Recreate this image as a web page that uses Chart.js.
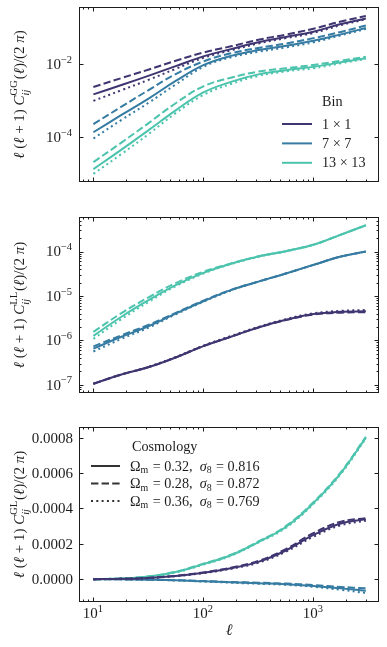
<!DOCTYPE html>
<html>
<head>
<meta charset="utf-8">
<script src="https://cdn.jsdelivr.net/npm/chart.js@4.4.1/dist/chart.umd.min.js"></script>
<style>
    html, body { margin: 0; padding: 0; background: #fff; }
    #wrap { position: relative; width: 387px; height: 647px; overflow: hidden; }
    #wrap canvas { position: absolute; left: 0; }
</style>
</head>
<body>
<div id="wrap">
    <canvas id="c-gg" width="387" height="205" style="top:0"></canvas>
    <canvas id="c-ll" width="387" height="205" style="top:205px"></canvas>
    <canvas id="c-gl" width="387" height="237" style="top:410px"></canvas>
</div>
<script>
// ═══ data ═══
const ELL = [10, 18, 32, 56, 100, 178, 316, 562, 1000, 1778, 3000];

const BIN_LABELS = ['1 × 1', '7 × 7', '13 × 13'];
const BIN_COLORS = ['#3e3571', '#357ba2', '#4cc3ad'];

// cosmologies: fiducial (solid), low Ωm (dashed), high Ωm (dotted)
const COSMO_OM = ['0.32', '0.28', '0.36'];
const COSMO_S8 = ['0.816', '0.872', '0.769'];
const COSMO_DASH = [[], [7.4, 3.2], [2, 3.3]];

// GG
const GG_1_FID = [1.5e-3, 2.7e-3, 4.9e-3, 8.9e-3, 0.0165, 0.026, 0.040, 0.056, 0.078, 0.126, 0.18];
const GG_1_LO  = [2.4e-3, 4.2e-3, 7.2e-3, 0.0125, 0.021, 0.031, 0.047, 0.065, 0.094, 0.148, 0.21];
const GG_1_HI  = [1.0e-3, 1.95e-3, 3.8e-3, 7.5e-3, 0.0150, 0.024, 0.037, 0.052, 0.072, 0.118, 0.17];
const GG_7_FID = [1.38e-4, 4.1e-4, 1.17e-3, 3.5e-3, 0.0095, 0.017, 0.0245, 0.032, 0.044, 0.066, 0.098];
const GG_7_LO  = [2.3e-4, 6.9e-4, 2.0e-3, 5.4e-3, 0.0120, 0.020, 0.028, 0.037, 0.052, 0.077, 0.115];
const GG_7_HI  = [9.3e-5, 3.0e-4, 9.0e-4, 2.8e-3, 0.0085, 0.0155, 0.022, 0.029, 0.040, 0.062, 0.093];
const GG_13_FID = [1.35e-5, 4.6e-5, 1.6e-4, 5.5e-4, 1.7e-3, 3.3e-3, 5.3e-3, 6.9e-3, 8.5e-3, 0.0113, 0.0146];
const GG_13_LO  = [2.1e-5, 7.2e-5, 2.5e-4, 8.6e-4, 2.5e-3, 4.3e-3, 6.3e-3, 7.8e-3, 9.6e-3, 0.0125, 0.016];
const GG_13_HI  = [1.0e-5, 3.5e-5, 1.25e-4, 4.6e-4, 1.45e-3, 2.9e-3, 4.8e-3, 6.4e-3, 7.8e-3, 0.0107, 0.014];

// LL
const LL_1_FID = [1.05e-7, 1.7e-7, 2.5e-7, 4.1e-7, 7.4e-7, 1.2e-6, 1.95e-6, 2.9e-6, 3.9e-6, 4.4e-6, 4.5e-6];
const LL_1_LO  = [1.05e-7, 1.7e-7, 2.5e-7, 4.1e-7, 7.4e-7, 1.2e-6, 1.95e-6, 2.85e-6, 3.8e-6, 4.2e-6, 4.3e-6];
const LL_1_HI  = [1.05e-7, 1.7e-7, 2.55e-7, 4.2e-7, 7.6e-7, 1.25e-6, 2.0e-6, 3.0e-6, 4.05e-6, 4.6e-6, 4.8e-6];
const LL_7_FID = [6.5e-7, 1.2e-6, 2.1e-6, 4.0e-6, 7.6e-6, 1.35e-5, 2.1e-5, 3.2e-5, 5.0e-5, 7.7e-5, 1.0e-4];
const LL_7_LO  = [7.3e-7, 1.3e-6, 2.25e-6, 4.15e-6, 7.8e-6, 1.37e-5, 2.1e-5, 3.2e-5, 5.0e-5, 7.7e-5, 1.0e-4];
const LL_7_HI  = [5.6e-7, 1.08e-6, 1.95e-6, 3.85e-6, 7.4e-6, 1.33e-5, 2.1e-5, 3.2e-5, 5.0e-5, 7.7e-5, 1.0e-4];
const LL_13_FID = [1.26e-6, 3.4e-6, 8.1e-6, 1.75e-5, 3.3e-5, 5.3e-5, 7.7e-5, 1.02e-4, 1.42e-4, 2.4e-4, 3.9e-4];
const LL_13_LO  = [1.55e-6, 4.1e-6, 9.4e-6, 1.95e-5, 3.5e-5, 5.4e-5, 7.8e-5, 1.03e-4, 1.43e-4, 2.4e-4, 3.9e-4];
const LL_13_HI  = [1.08e-6, 3.0e-6, 7.4e-6, 1.65e-5, 3.2e-5, 5.2e-5, 7.6e-5, 1.01e-4, 1.41e-4, 2.4e-4, 3.9e-4];

// GL
const GL_1_FID = [0, 2e-6, 7e-6, 1.8e-5, 3.6e-5, 6.2e-5, 9.8e-5, 1.62e-4, 2.5e-4, 3.15e-4, 3.38e-4];
const GL_1_LO  = [0, 2e-6, 7.5e-6, 1.9e-5, 3.8e-5, 6.5e-5, 1.03e-4, 1.7e-4, 2.6e-4, 3.25e-4, 3.45e-4];
const GL_1_HI  = [0, 2e-6, 6.5e-6, 1.7e-5, 3.4e-5, 5.9e-5, 9.3e-5, 1.55e-4, 2.4e-4, 3.05e-4, 3.3e-4];
const GL_7_FID = [0, -1e-6, -3e-6, -6e-6, -1.2e-5, -1.8e-5, -2.3e-5, -2.8e-5, -3.8e-5, -5.2e-5, -6.5e-5];
const GL_7_LO  = [0, -1e-6, -3e-6, -5.5e-6, -1.1e-5, -1.6e-5, -2.0e-5, -2.5e-5, -3.3e-5, -4.4e-5, -5.2e-5];
const GL_7_HI  = [0, -1e-6, -3.5e-6, -7e-6, -1.3e-5, -2.0e-5, -2.6e-5, -3.2e-5, -4.3e-5, -6.0e-5, -7.8e-5];
const GL_13_FID = [0, 4e-6, 1.5e-5, 4.0e-5, 8.5e-5, 1.35e-4, 2.1e-4, 2.95e-4, 4.3e-4, 6.0e-4, 8.0e-4];
const GL_13_LO  = [0, 4e-6, 1.6e-5, 4.2e-5, 8.8e-5, 1.38e-4, 2.13e-4, 3.0e-4, 4.35e-4, 6.05e-4, 8.05e-4];
const GL_13_HI  = [0, 4e-6, 1.4e-5, 3.8e-5, 8.2e-5, 1.32e-4, 2.07e-4, 2.9e-4, 4.25e-4, 5.95e-4, 7.95e-4];

// ticks
const X_MIN = 7.4, X_MAX = 3950;
const X_MAJOR = [10, 100, 1000];
const GG_Y_MAJOR = [1e-4, 1e-2];
const LL_Y_MAJOR = [1e-7, 1e-6, 1e-5, 1e-4];
const GL_Y_MAJOR = [0, 0.0002, 0.0004, 0.0006, 0.0008];
const GL_Y_LABELS = ['0.0000', '0.0002', '0.0004', '0.0006', '0.0008'];

// ═══ text helpers ═══
const SERIF = '"Liberation Serif", "DejaVu Serif", serif';
const INK = '#1c1c1c';

function fnt(size, it) { return (it ? 'italic ' : '') + size + 'px ' + SERIF; }

function runWidth(ctx, r, size) {
    const small = size * 0.7;
    if (r.t !== undefined) { ctx.font = fnt(size, r.it); return ctx.measureText(r.t).width; }
    let w = 0;
    if (r.sub) { ctx.font = fnt(small, r.subIt); w = Math.max(w, ctx.measureText(r.sub).width); }
    if (r.sup) { ctx.font = fnt(small, r.supIt); w = Math.max(w, ctx.measureText(r.sup).width); }
    return w + size * 0.06;
}

function drawRuns(ctx, runs, x, y, size, align) {
    const small = size * 0.7;
    const total = runs.reduce((s, r) => s + runWidth(ctx, r, size), 0);
    let cx = align === 'center' ? x - total / 2 : align === 'right' ? x - total : x;
    ctx.fillStyle = INK;
    ctx.textAlign = 'left';
    ctx.textBaseline = 'alphabetic';
    runs.forEach(r => {
        const w = runWidth(ctx, r, size);
        if (r.t !== undefined) {
            ctx.font = fnt(size, r.it);
            ctx.fillText(r.t, cx, y);
        } else {
            const both = r.sub && r.sup;
            if (r.sup) { ctx.font = fnt(small, r.supIt); ctx.fillText(r.sup, cx, y - size * (both ? 0.45 : 0.42)); }
            if (r.sub) { ctx.font = fnt(small, r.subIt); ctx.fillText(r.sub, cx, y + size * (both ? 0.3 : 0.2)); }
        }
        cx += w;
    });
    return total;
}

function yTitleRuns(kind) {
    return [
        { t: 'ℓ', it: true }, { t: ' (' }, { t: 'ℓ', it: true }, { t: ' + 1) ' },
        { t: 'C', it: true }, { sub: 'ij', subIt: true, sup: kind },
        { t: '(' }, { t: 'ℓ', it: true }, { t: ')/(2 ' }, { t: 'π', it: true }, { t: ')' }
    ];
}

function powLabel(v) {
    const e = Math.round(Math.log10(v));
    return [{ t: '10' }, { sup: String(e).replace('-', '−') }];
}

function cosmoRuns(i) {
    return [{ t: 'Ω' }, { sub: 'm' }, { t: ' = ' + COSMO_OM[i] + ',  ' }, { t: 'σ', it: true }, { sub: '8' }, { t: ' = ' + COSMO_S8[i] }];
}

// ═══ frame, inward ticks, labels, legends ═══
const framePlugin = {
    id: 'frame',
    afterDraw(chart) {
        const o = chart.options.plugins.frame;
        const ctx = chart.ctx;
        const a = chart.chartArea;
        const xs = chart.scales.x, ys = chart.scales.y;
        ctx.save();
        ctx.strokeStyle = INK;
        ctx.lineWidth = 1;
        ctx.setLineDash([]);
        ctx.strokeRect(Math.round(a.left) + 0.5, Math.round(a.top) + 0.5, Math.round(a.right - a.left) - 1, Math.round(a.bottom - a.top) - 1);

        const tick = (x1, y1, x2, y2) => { ctx.beginPath(); ctx.moveTo(x1, y1); ctx.lineTo(x2, y2); ctx.stroke(); };
        // x ticks
        for (let dec = 1; dec <= 1000; dec *= 10) {
            for (let m = 1; m <= 9; m++) {
                const v = m * dec;
                if (v < X_MIN || v > X_MAX) continue;
                const px = Math.round(xs.getPixelForValue(v)) + 0.5;
                const len = m === 1 ? 4.5 : 2.5;
                tick(px, a.bottom, px, a.bottom - len);
                tick(px, a.top, px, a.top + len);
            }
        }
        // y ticks
        o.yMajor.forEach(v => {
            const py = Math.round(ys.getPixelForValue(v)) + 0.5;
            tick(a.left, py, a.left + 4.5, py);
            tick(a.right, py, a.right - 4.5, py);
        });
        if (o.yMinorLog) {
            for (let dec = 1e-8; dec < 1e-3; dec *= 10) {
                for (let m = 2; m <= 9; m++) {
                    const v = m * dec;
                    if (v < ys.min || v > ys.max) continue;
                    const py = Math.round(ys.getPixelForValue(v)) + 0.5;
                    tick(a.left, py, a.left + 2.5, py);
                    tick(a.right, py, a.right - 2.5, py);
                }
            }
        }

        // y tick labels
        const TS = 15;
        o.yMajor.forEach((v, i) => {
            const py = ys.getPixelForValue(v);
            const runs = o.yLabels ? [{ t: o.yLabels[i] }] : powLabel(v);
            drawRuns(ctx, runs, a.left - 6, py + TS * 0.33, TS, 'right');
        });
        // x tick labels
        if (o.xLabels) {
            X_MAJOR.forEach(v => {
                drawRuns(ctx, powLabel(v), xs.getPixelForValue(v), a.bottom + 16, TS, 'center');
            });
            ctx.font = fnt(16, true);
            ctx.fillStyle = INK;
            ctx.textAlign = 'center';
            ctx.fillText('ℓ', (a.left + a.right) / 2, a.bottom + 33);
        }

        // y title
        ctx.save();
        ctx.translate(24, (a.top + a.bottom) / 2);
        ctx.rotate(-Math.PI / 2);
        drawRuns(ctx, yTitleRuns(o.kind), 0, 0, 15, 'center');
        ctx.restore();

        // legends
        const LS = 14.2;
        if (o.legend === 'bin') {
            drawRuns(ctx, [{ t: 'Bin' }], a.left + 243, a.top + 99, LS, 'left');
            BIN_LABELS.forEach((lab, i) => {
                const y = a.top + 117 + i * 19.4;
                ctx.strokeStyle = BIN_COLORS[i];
                ctx.lineWidth = 2;
                tick(a.left + 203, y, a.left + 233, y);
                drawRuns(ctx, [{ t: lab }], a.left + 243, y + 4.5, LS, 'left');
            });
        }
        if (o.legend === 'cosmo') {
            drawRuns(ctx, [{ t: 'Cosmology' }], a.left + 53, a.top + 24, LS, 'left');
            COSMO_OM.forEach((_, i) => {
                const y = a.top + 39 + i * 17.5;
                ctx.strokeStyle = '#333';
                ctx.lineWidth = 2;
                ctx.setLineDash(COSMO_DASH[i]);
                tick(a.left + 12, y, a.left + 41, y);
                ctx.setLineDash([]);
                drawRuns(ctx, cosmoRuns(i), a.left + 51, y + 4.5, LS, 'left');
            });
        }
        ctx.restore();
    }
};

function makeDatasets(series) {
    const out = [];
    series.forEach((bin, b) => {
        bin.forEach((vals, c) => {
            out.push({
                data: ELL.map((l, k) => ({ x: l, y: vals[k] })),
                borderColor: BIN_COLORS[b],
                borderWidth: 2,
                borderDash: COSMO_DASH[c],
                pointRadius: 0,
                fill: false,
                tension: 0.4
            });
        });
    });
    return out;
}

function makePanel(id, series, yType, yMin, yMax, pad, frame) {
    return new Chart(document.getElementById(id), {
        type: 'line',
        data: { datasets: makeDatasets(series) },
        options: {
            responsive: false,
            animation: false,
            layout: { padding: pad },
            plugins: { legend: { display: false }, tooltip: { enabled: false }, frame },
            scales: {
                x: { type: 'logarithmic', min: X_MIN, max: X_MAX, display: false, bounds: 'data' },
                y: { type: yType, min: yMin, max: yMax, display: false, bounds: 'data' }
            }
        },
        plugins: [framePlugin]
    });
}

makePanel('c-gg',
    [[GG_1_FID, GG_1_LO, GG_1_HI], [GG_7_FID, GG_7_LO, GG_7_HI], [GG_13_FID, GG_13_LO, GG_13_HI]],
    'logarithmic', 6.0e-6, 0.37,
    { left: 79, right: 8, top: 7, bottom: 23 },
    { kind: 'GG', yMajor: GG_Y_MAJOR, legend: 'bin' });

makePanel('c-ll',
    [[LL_1_FID, LL_1_LO, LL_1_HI], [LL_7_FID, LL_7_LO, LL_7_HI], [LL_13_FID, LL_13_LO, LL_13_HI]],
    'logarithmic', 6.5e-8, 6.0e-4,
    { left: 79, right: 8, top: 12, bottom: 17 },
    { kind: 'LL', yMajor: LL_Y_MAJOR, yMinorLog: true });

makePanel('c-gl',
    [[GL_1_FID, GL_1_LO, GL_1_HI], [GL_7_FID, GL_7_LO, GL_7_HI], [GL_13_FID, GL_13_LO, GL_13_HI]],
    'linear', -0.000129, 0.00086,
    { left: 79, right: 8, top: 17, bottom: 45 },
    { kind: 'GL', yMajor: GL_Y_MAJOR, yLabels: GL_Y_LABELS, legend: 'cosmo', xLabels: true });
</script>
</body>
</html>
